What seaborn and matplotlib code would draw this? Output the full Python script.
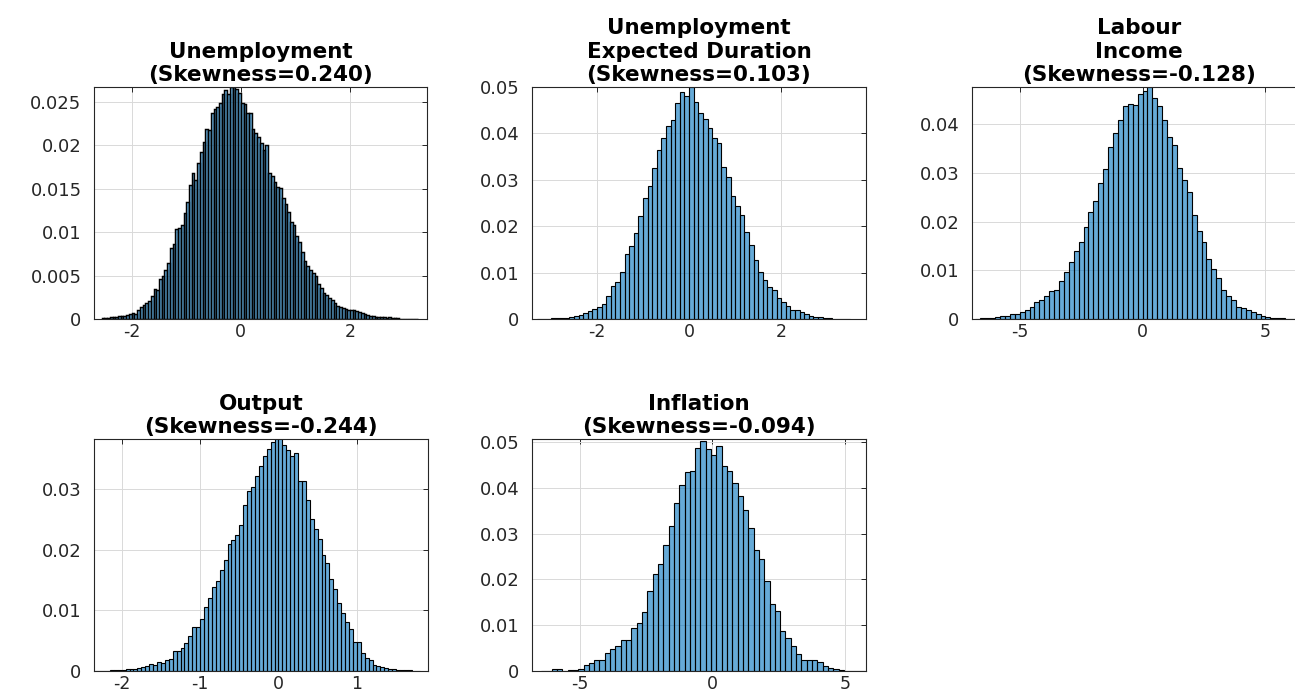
import numpy as np
import pandas as pd
import matplotlib
matplotlib.use("Agg")
import matplotlib.pyplot as plt
import seaborn as sns
from matplotlib.ticker import FuncFormatter

# Bar heights (probability per bin)
unemployment_probs = [
    0.00008, 0.00011, 0.00015, 0.00019, 0.00023, 0.00027, 0.00031, 0.00034, 0.00038, 0.00046,
    0.00054, 0.00069, 0.00054, 0.00100, 0.00138, 0.00161, 0.00184, 0.00203, 0.00261, 0.00345,
    0.00329, 0.00460, 0.00498, 0.00567, 0.00644, 0.00816, 0.00866, 0.01034, 0.01046, 0.01077,
    0.01218, 0.01341, 0.01540, 0.01678, 0.01600, 0.01800, 0.01927, 0.02042, 0.02184, 0.02176,
    0.02368, 0.02414, 0.02444, 0.02490, 0.02590, 0.02636, 0.02590, 0.02674, 0.02666, 0.02643,
    0.02597, 0.02483, 0.02475, 0.02375, 0.02368, 0.02184, 0.02145, 0.02092, 0.02023, 0.01946,
    0.02004, 0.01686, 0.01640, 0.01582, 0.01517, 0.01506, 0.01391, 0.01326, 0.01226, 0.01111,
    0.01084, 0.00958, 0.00881, 0.00766, 0.00663, 0.00605, 0.00559, 0.00529, 0.00490, 0.00406,
    0.00356, 0.00299, 0.00280, 0.00241, 0.00215, 0.00184, 0.00146, 0.00134, 0.00126, 0.00115,
    0.00107, 0.00100, 0.00107, 0.00088, 0.00077, 0.00069, 0.00054, 0.00046, 0.00038, 0.00031,
    0.00027, 0.00023, 0.00023, 0.00019, 0.00015, 0.00019, 0.00011, 0.00008, 0.00008, 0.00004,
    0.00004, 0.00004, 0.00002, 0.00004, 0.00002, 0.00002,
]
duration_probs = [
    0.00000, 0.00007, 0.00007, 0.00014, 0.00014, 0.00022, 0.00029, 0.00043, 0.00065, 0.00086,
    0.00129, 0.00172, 0.00216, 0.00259, 0.00330, 0.00503, 0.00704, 0.00805, 0.01013, 0.01408,
    0.01566, 0.01853, 0.02227, 0.02615, 0.02874, 0.03254, 0.03649, 0.03894, 0.04152, 0.04282,
    0.04655, 0.04885, 0.04813, 0.05000, 0.04670, 0.04440, 0.04310, 0.04116, 0.03901, 0.03793,
    0.03276, 0.03060, 0.02644, 0.02428, 0.02249, 0.01868, 0.01602, 0.01279, 0.01020, 0.00848,
    0.00690, 0.00632, 0.00453, 0.00359, 0.00273, 0.00201, 0.00187, 0.00144, 0.00101, 0.00072,
    0.00050, 0.00036, 0.00022, 0.00014, 0.00007, 0.00007, 0.00003, 0.00002,
]
labour_probs = [
    0.00007, 0.00014, 0.00021, 0.00027, 0.00041, 0.00055, 0.00068, 0.00096, 0.00103, 0.00150,
    0.00191, 0.00246, 0.00342, 0.00396, 0.00465, 0.00567, 0.00588, 0.00779, 0.00957, 0.01162,
    0.01388, 0.01579, 0.01886, 0.02194, 0.02420, 0.02789, 0.03076, 0.03527, 0.03814, 0.04074,
    0.04361, 0.04415, 0.04395, 0.04621, 0.04668, 0.04757, 0.04532, 0.04374, 0.04074, 0.03732,
    0.03568, 0.03096, 0.02857, 0.02611, 0.02133, 0.01811, 0.01586, 0.01230, 0.01032, 0.00834,
    0.00588, 0.00478, 0.00396, 0.00246, 0.00219, 0.00191, 0.00137, 0.00096, 0.00068, 0.00041,
    0.00027, 0.00021, 0.00014, 0.00007, 0.00007, 0.00003,
]
output_probs = [
    0.00006, 0.00006, 0.00006, 0.00008, 0.00011, 0.00014, 0.00019, 0.00022, 0.00028, 0.00033,
    0.00039, 0.00050, 0.00061, 0.00083, 0.00116, 0.00105, 0.00155, 0.00138, 0.00188, 0.00199,
    0.00332, 0.00332, 0.00376, 0.00453, 0.00580, 0.00718, 0.00729, 0.00851, 0.01061, 0.01199,
    0.01376, 0.01475, 0.01669, 0.01834, 0.02083, 0.02155, 0.02243, 0.02398, 0.02729, 0.02961,
    0.03022, 0.03204, 0.03370, 0.03536, 0.03658, 0.03768, 0.03834, 0.03834, 0.03724, 0.03646,
    0.03547, 0.03591, 0.03133, 0.03122, 0.02818, 0.02508, 0.02332, 0.02166, 0.01917, 0.01779,
    0.01514, 0.01348, 0.01127, 0.00950, 0.00812, 0.00685, 0.00481, 0.00470, 0.00298, 0.00215,
    0.00177, 0.00099, 0.00088, 0.00066, 0.00050, 0.00039, 0.00028, 0.00022, 0.00017, 0.00011,
    0.00011, 0.00006, 0.00006,
]
inflation_probs = [
    0.00003, 0.00005, 0.00040, 0.00040, 0.00010, 0.00030, 0.00030, 0.00040, 0.00130, 0.00180,
    0.00246, 0.00246, 0.00399, 0.00471, 0.00536, 0.00688, 0.00688, 0.00942, 0.01043, 0.01283,
    0.01739, 0.02116, 0.02333, 0.02754, 0.03167, 0.03674, 0.04058, 0.04348, 0.04362, 0.04869,
    0.05029, 0.04855, 0.04724, 0.04927, 0.04478, 0.04362, 0.04109, 0.03819, 0.03529, 0.03130,
    0.02638, 0.02442, 0.01957, 0.01464, 0.01319, 0.00884, 0.00725, 0.00536, 0.00377, 0.00246,
    0.00246, 0.00232, 0.00196, 0.00101, 0.00072, 0.00045, 0.00020, 0.00002, 0.00003, 0.00010,
    0.00008,
]

titles = [
    "Unemployment\n(Skewness=0.240)",
    "Unemployment\nExpected Duration\n(Skewness=0.103)",
    "Labour\nIncome\n(Skewness=-0.128)",
    "Output\n(Skewness=-0.244)",
    "Inflation\n(Skewness=-0.094)",
]

# first bin edge and bin width of each histogram
bin_starts = [-2.55, -3.3, -6.8, -2.35, -6.45]
bin_widths = [0.05, 0.1, 0.2, 0.05, 0.2]

MATLAB_BLUE = (0.0, 0.447, 0.741)
INK = "#262626"

sns.set_theme(style="white")
plt.rcParams["font.family"] = ["DejaVu Sans"]

fig = plt.figure(figsize=(12.95, 6.95), dpi=100)

W, H = 1295.0, 695.0
# axes boxes in pixels: left, top, width, height
boxes = [
    (94, 87, 333, 232),
    (532, 87, 334, 232),
    (972, 87, 334, 232),
    (94, 439, 334, 232),
    (532, 439, 334, 232),
]
xlims = [(-2.69, 3.41), (-3.41, 3.84), (-6.94, 6.65), (-2.354, 1.908), (-6.79, 5.78)]
ylims = [(0, 0.0267), (0, 0.05), (0, 0.0476), (0, 0.0382), (0, 0.0507)]
xticks = [[-2, 0, 2], [-2, 0, 2], [-5, 0, 5], [-2, -1, 0, 1], [-5, 0, 5]]
yticks = [
    [0, 0.005, 0.01, 0.015, 0.02, 0.025],
    [0, 0.01, 0.02, 0.03, 0.04, 0.05],
    [0, 0.01, 0.02, 0.03, 0.04],
    [0, 0.01, 0.02, 0.03],
    [0, 0.01, 0.02, 0.03, 0.04, 0.05],
]
# the narrow bins of the first panel show mostly their black edges
edge_widths = [1.05, 0.8, 0.8, 0.8, 0.8]

all_probs = [unemployment_probs, duration_probs, labour_probs, output_probs, inflation_probs]
fmt = FuncFormatter(lambda v, _: f"{v:g}")

for i, probs in enumerate(all_probs):
    left, top, w, h = boxes[i]
    ax = fig.add_axes([left / W, 1 - (top + h) / H, w / W, h / H])

    n = len(probs)
    edges = bin_starts[i] + bin_widths[i] * np.arange(n + 1)
    df = pd.DataFrame({"value": (edges[:-1] + edges[1:]) / 2, "prob": probs})

    sns.histplot(
        data=df, x="value", weights="prob", bins=edges.tolist(), ax=ax,
        color=MATLAB_BLUE, alpha=0.6, edgecolor="black", linewidth=edge_widths[i],
    )

    ax.set_xlim(*xlims[i])
    ax.set_ylim(*ylims[i])
    ax.set_xticks(xticks[i])
    ax.set_yticks(yticks[i])
    ax.xaxis.set_major_formatter(fmt)
    ax.yaxis.set_major_formatter(fmt)
    ax.set_xlabel("")
    ax.set_ylabel("")

    ax.set_axisbelow(True)
    ax.grid(True, color="#d9d9d9", linewidth=0.7)
    for sp in ax.spines.values():
        sp.set_color(INK)
        sp.set_linewidth(0.8)
    ax.tick_params(direction="in", length=3.5, width=0.7, colors=INK,
                   top=True, right=True, labelsize=13, labelcolor=INK)
    ax.tick_params(axis="y", pad=9)
    ax.tick_params(axis="x", pad=3, labelsize=12.5)

    ax.set_title(titles[i], fontsize=15.5, fontweight="bold", color="black",
                 pad=4, linespacing=1.22)

fig.savefig("out.png", dpi=100)
